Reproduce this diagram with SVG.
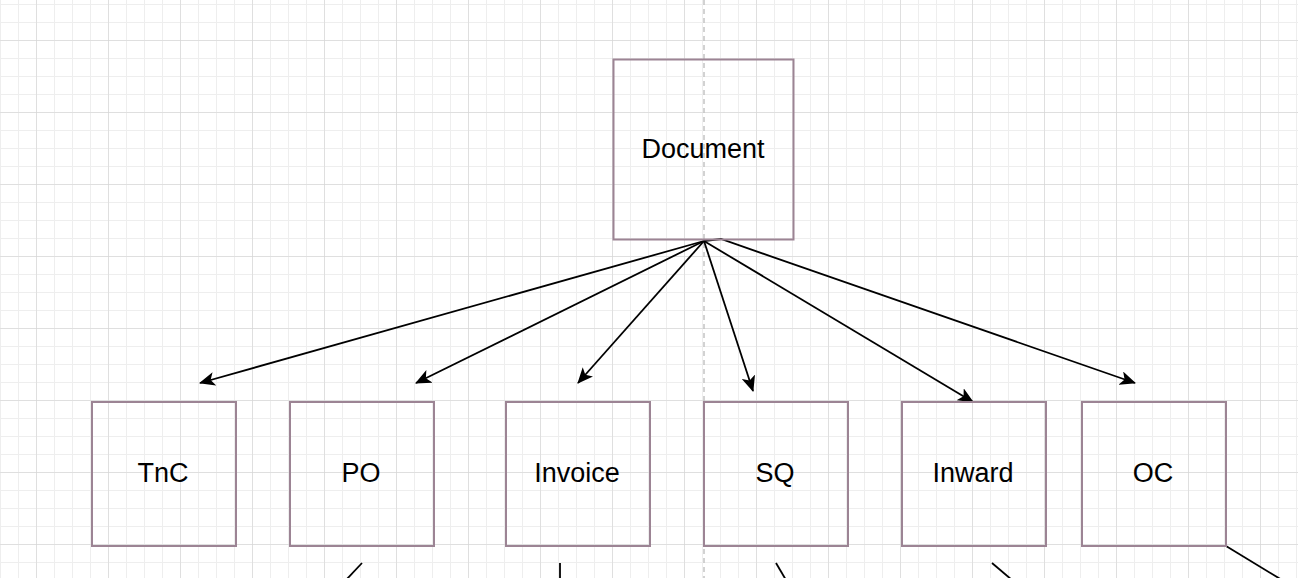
<svg xmlns="http://www.w3.org/2000/svg" width="1298" height="578" viewBox="0 0 1298 578">
<style>
.box{fill:none;stroke:#9c8494;stroke-width:2}
.lbl{font-family:"Liberation Sans",Arial,Helvetica,sans-serif;font-size:27px;fill:#000;text-anchor:middle}
.edge{fill:none;stroke:#000;stroke-width:1.8}
</style>
<defs>
<pattern id="minor" patternUnits="userSpaceOnUse" x="0" y="4" width="18" height="18">
<rect x="-1" y="0" width="2" height="18" fill="#eeeeee"/>
<rect x="0" y="-1" width="18" height="2" fill="#eeeeee"/>
</pattern>
<pattern id="major" patternUnits="userSpaceOnUse" x="36" y="40" width="72" height="72">
<rect x="-0.5" y="0" width="1" height="72" fill="#d0d0d0"/>
<rect x="0" y="-0.5" width="72" height="1" fill="#d0d0d0"/>
</pattern>
<marker id="arr" markerUnits="userSpaceOnUse" viewBox="0 0 16 14" markerWidth="16" markerHeight="14" refX="15" refY="7" orient="auto">
<path d="M0,0 L16,7 L0,14 L4,7 z" fill="#000"/>
</marker>
</defs>
<rect width="1298" height="578" fill="#fff"/>
<rect width="1298" height="578" fill="url(#minor)"/>
<rect width="1298" height="578" fill="url(#major)"/>
<line x1="704" y1="0" x2="704" y2="578" stroke="#c4c4c4" stroke-width="1.5" stroke-dasharray="5 4"/>
<g id="connectors">
<line class="edge" x1="704" y1="241" x2="200" y2="383" marker-end="url(#arr)"/>
<line class="edge" x1="704" y1="241" x2="416" y2="383" marker-end="url(#arr)"/>
<line class="edge" x1="704" y1="241" x2="578" y2="383" marker-end="url(#arr)"/>
<line class="edge" x1="704" y1="241" x2="753" y2="391" marker-end="url(#arr)"/>
<line class="edge" x1="704" y1="241" x2="973" y2="402" marker-end="url(#arr)"/>
<polyline class="edge" points="704,241 721,239 1135,383" marker-end="url(#arr)"/>
<line class="edge" x1="362" y1="563" x2="346" y2="580"/>
<line class="edge" x1="560" y1="563" x2="560" y2="580"/>
<line class="edge" x1="776" y1="563" x2="786" y2="580"/>
<line class="edge" x1="992" y1="563" x2="1012" y2="580"/>
<line class="edge" x1="1226" y1="546" x2="1282" y2="580"/>
</g>
<g id="node-document">
<rect class="box" x="613.5" y="59.5" width="180" height="180"/>
<text class="lbl" x="703" y="158">Document</text>
</g>
<g id="node-tnc">
<rect class="box" x="92" y="402" width="144" height="144"/>
<text class="lbl" x="163" y="482">TnC</text>
</g>
<g id="node-po">
<rect class="box" x="290" y="402" width="144" height="144"/>
<text class="lbl" x="361" y="482">PO</text>
</g>
<g id="node-invoice">
<rect class="box" x="506" y="402" width="144" height="144"/>
<text class="lbl" x="577" y="482">Invoice</text>
</g>
<g id="node-sq">
<rect class="box" x="704" y="402" width="144" height="144"/>
<text class="lbl" x="775" y="482">SQ</text>
</g>
<g id="node-inward">
<rect class="box" x="902" y="402" width="144" height="144"/>
<text class="lbl" x="973" y="482">Inward</text>
</g>
<g id="node-oc">
<rect class="box" x="1082" y="402" width="144" height="144"/>
<text class="lbl" x="1153" y="482">OC</text>
</g>
</svg>
